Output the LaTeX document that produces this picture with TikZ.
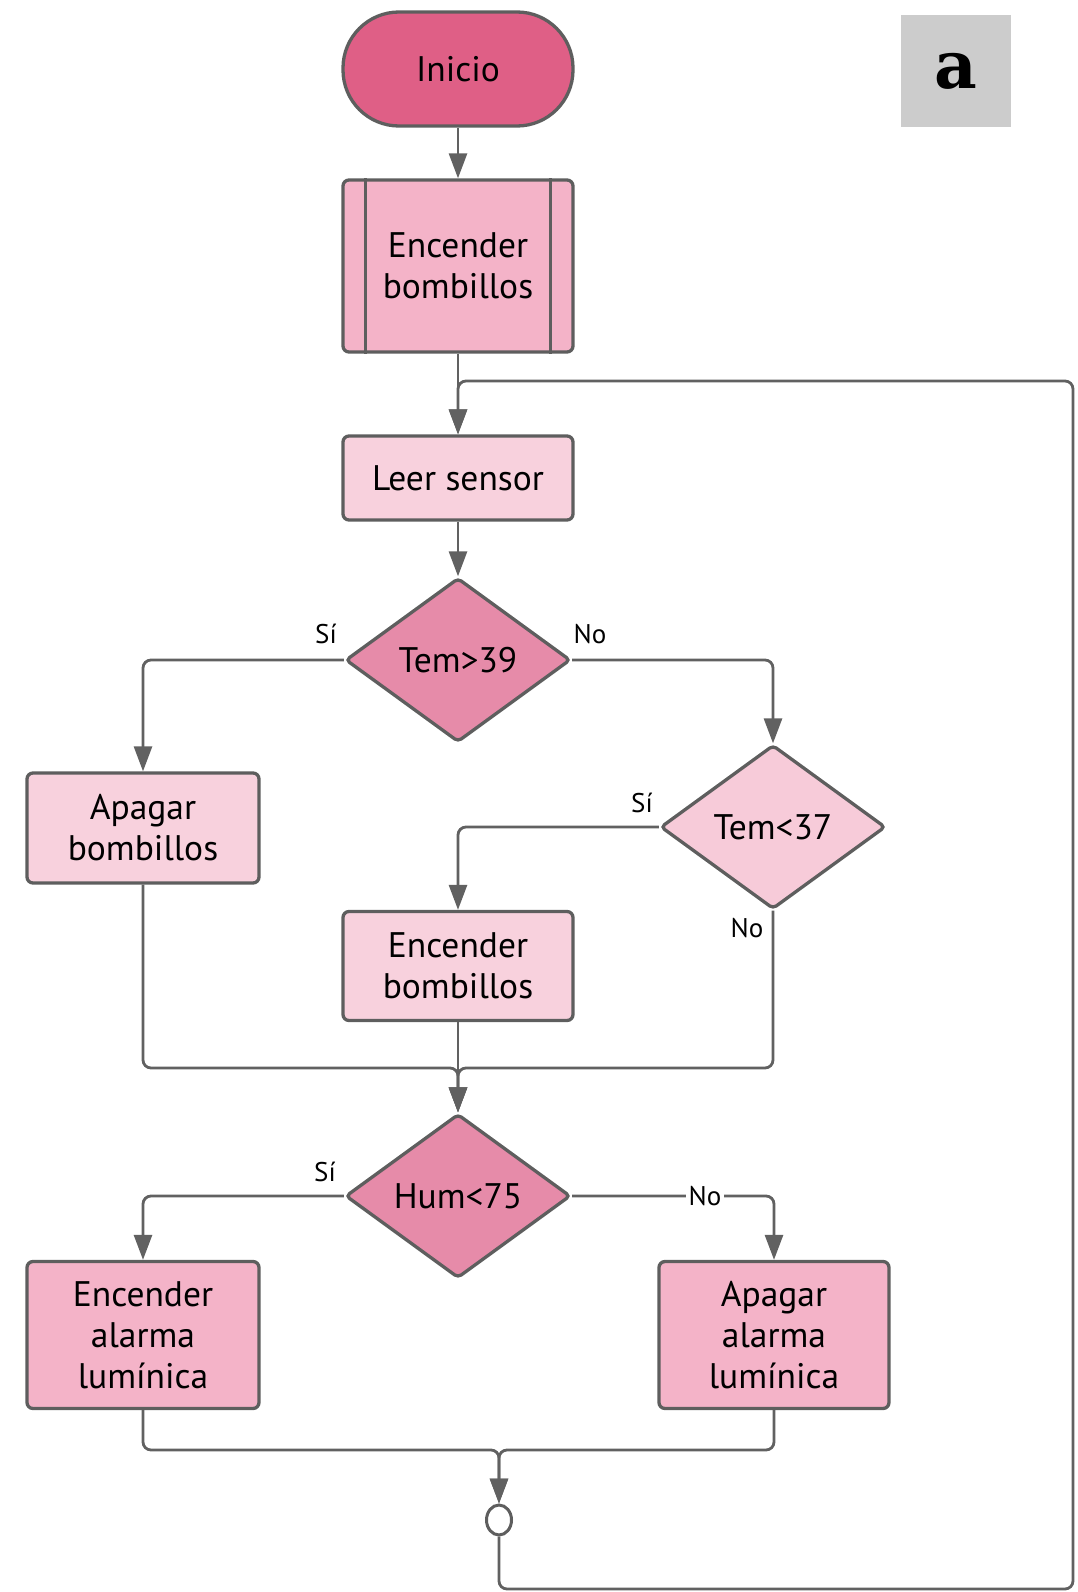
\documentclass[tikz,border=0pt]{standalone}
\usepackage{fontspec}
\setmainfont{PT Sans}
\newfontfamily\labfont{DejaVu Serif}
\usetikzlibrary{shapes.geometric,arrows.meta}
\definecolor{inicioC}{HTML}{DF5F86}
\definecolor{midC}{HTML}{F4B3C8}
\definecolor{lightC}{HTML}{F8D1DD}
\definecolor{diaC}{HTML}{E68BA9}
\definecolor{dia2C}{HTML}{F7CBD9}
\definecolor{bordC}{HTML}{5E5E5E}
\definecolor{lineC}{HTML}{616161}
\definecolor{tagC}{HTML}{CCCCCC}
\newcommand{\mainfs}{\fontsize{35.5}{41}\selectfont}
\newcommand{\lblfs}{\fontsize{27}{30}\selectfont}
\tikzset{
  box/.style={draw=bordC, line width=3.3pt, rounded corners=6pt, inner sep=0pt, align=center, font=\mainfs},
  diam/.style={diamond, draw=bordC, line width=3.3pt, rounded corners=4pt, inner sep=0pt, minimum width=225pt, minimum height=164pt, font=\mainfs},
  conn/.style={draw=lineC, line width=2.8pt, rounded corners=8pt},
  arr/.style={conn, -{Triangle[length=25pt,width=18pt]}},
  lbl/.style={font=\lblfs, inner sep=1pt}
}
\begin{document}
\begin{tikzpicture}[x=1pt,y=-1pt]
\useasboundingbox (0,0) rectangle (1077,1592);
% tag
\node[fill=tagC, minimum width=110pt, minimum height=112pt, inner sep=0pt] (tag) at (956,71) {\labfont\bfseries\fontsize{66}{66}\selectfont a};
% nodes
\node[box, fill=inicioC, rounded corners=56pt, minimum width=230pt, minimum height=114pt] (inicio) at (458,69) {Inicio};
\node[box, fill=midC, minimum width=230pt, minimum height=172pt] (enc1) at (458,266) {Encender\\bombillos};
\draw[bordC, line width=3.3pt] ([xshift=24pt]enc1.north west) -- ([xshift=24pt]enc1.south west);
\draw[bordC, line width=3.3pt] ([xshift=-24pt]enc1.north east) -- ([xshift=-24pt]enc1.south east);
\node[box, fill=lightC, minimum width=230pt, minimum height=84pt] (leer) at (458,478) {Leer sensor};
\node[diam, fill=diaC] (tem39) at (458,660) {Tem>39};
\node[box, fill=lightC, minimum width=232pt, minimum height=110pt] (apag1) at (143,828) {Apagar\\bombillos};
\node[diam, fill=dia2C] (tem37) at (773,827) {Tem<37};
\node[box, fill=lightC, minimum width=230pt, minimum height=109pt] (enc2) at (458,966) {Encender\\bombillos};
\node[diam, fill=diaC] (hum) at (458,1196) {Hum<75};
\node[box, fill=midC, minimum width=232pt, minimum height=147pt] (alarm1) at (143,1335) {Encender\\alarma\\lumínica};
\node[box, fill=midC, minimum width=230pt, minimum height=147pt] (alarm2) at (774,1335) {Apagar\\alarma\\lumínica};
\node[ellipse, draw=bordC, line width=3pt, fill=white, minimum width=25pt, minimum height=30pt, inner sep=0pt] (circ) at (499,1520) {};
\coordinate (merge) at (458,1068);
\coordinate (j2) at (499,1450);
\coordinate (br) at (1073,1589);
\coordinate (tl) at (458,381);
% connectors
\draw[arr] (inicio) -- (enc1);
\draw[arr] (enc1) -- (leer);
\draw[arr] (leer) -- (tem39);
\draw[arr] (tem39.west) -| (apag1.north);
\draw[arr] (tem39.east) -| (tem37.north);
\draw[arr] (tem37.west) -| (enc2.north);
\draw[arr] (apag1.south) |- (merge) -- (hum.north);
\draw[arr] (tem37.south) |- (merge) -- (hum.north);
\draw[arr] (enc2.south) -- (hum.north);
\draw[arr] (hum.west) -| (alarm1.north);
\draw[arr] (hum.east) -| (alarm2.north);
\draw[arr] (alarm1.south) |- (j2) -- (circ.north);
\draw[arr] (alarm2.south) |- (j2) -- (circ.north);
\draw[arr] (circ.south) |- (br) |- (tl) -- (leer.north);
% labels
\node[lbl] (s1) at (326,634) {Sí};
\node[lbl] (n1) at (590,634) {No};
\node[lbl] (s2) at (642,803) {Sí};
\node[lbl] (n2) at (747,928) {No};
\node[lbl] (s3) at (325,1172) {Sí};
\node[lbl, fill=white, inner sep=3pt] (n3) at (705,1196) {No};
\end{tikzpicture}
\end{document}
